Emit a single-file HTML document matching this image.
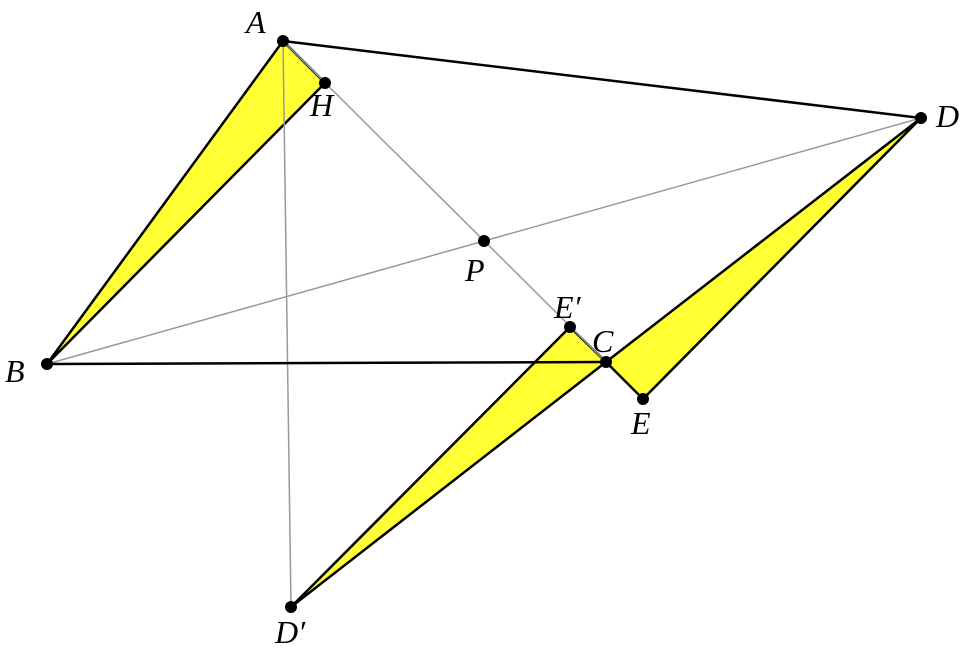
<!DOCTYPE html>
<html><head><style>body{margin:0;background:#fff}svg{display:block}text{font-family:"Liberation Serif",serif;font-style:italic;font-size:32px}</style></head><body>
<svg width="972" height="650" viewBox="0 0 972 650">
<polygon points="283,41 325,83 47,364" fill="#ffff33" stroke="#000" stroke-width="2.5" stroke-linejoin="round"/>
<polygon points="921,118 606,362 643,399" fill="#ffff33" stroke="#000" stroke-width="2.5" stroke-linejoin="round"/>
<polygon points="291,607 570,327 606,362" fill="#ffff33" stroke="#000" stroke-width="2.5" stroke-linejoin="round"/>
<g stroke="#999" stroke-width="1.5">
<line x1="283" y1="41" x2="291" y2="607"/>
<line x1="47" y1="364" x2="921" y2="118"/>
<line x1="283" y1="41" x2="606" y2="362"/>
</g>
<g stroke="#000" stroke-width="2.5">
<line x1="283" y1="41" x2="921" y2="118"/>
<line x1="47" y1="364" x2="606" y2="362"/>
</g>
<g fill="#000">
<circle cx="283" cy="41" r="6"/><circle cx="325" cy="83" r="6"/><circle cx="921" cy="118" r="6"/>
<circle cx="484" cy="241" r="6"/><circle cx="570" cy="327" r="6"/><circle cx="606" cy="362" r="6"/>
<circle cx="643" cy="399" r="6"/><circle cx="47" cy="364" r="6"/><circle cx="291" cy="607" r="6"/>
</g>
<text x="246" y="33">A</text>
<text x="310" y="116" font-size="28">H</text>
<text x="936" y="127">D</text>
<text x="465" y="281">P</text>
<text x="554" y="318" font-size="28">E′</text>
<text x="592" y="352">C</text>
<text x="631" y="434" font-size="28">E</text>
<text x="5" y="382">B</text>
<text x="275" y="643" font-size="28">D′</text>
</svg>
</body></html>
